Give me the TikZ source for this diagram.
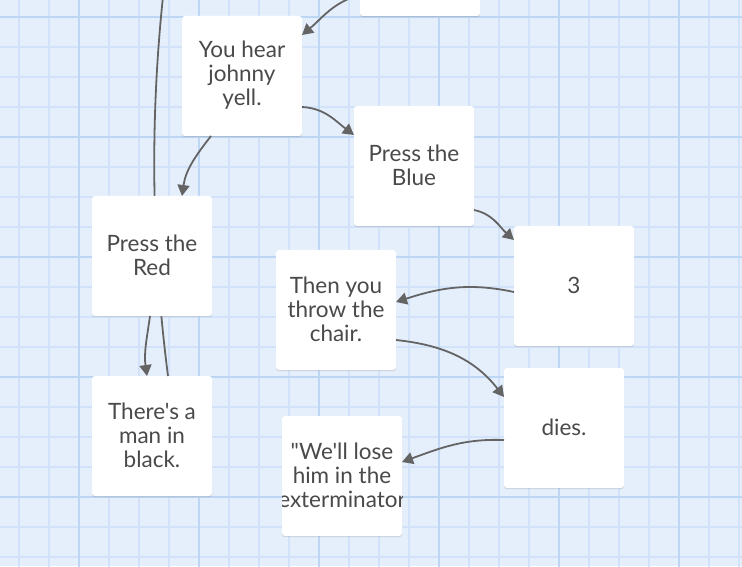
\documentclass[tikz,border=0pt]{standalone}
\usepackage{fontspec}
\newfontfamily\cardfont{Lato}
\usetikzlibrary{arrows.meta,calc,shadows}
\definecolor{bgblue}{HTML}{E5EFFC}
\definecolor{minorline}{HTML}{D2E3F9}
\definecolor{majorline}{HTML}{BDD6F4}
\definecolor{edgegray}{HTML}{646464}
\definecolor{textgray}{HTML}{4A4A4A}
\tikzset{
  card/.style={draw=none, fill=white, rounded corners=3pt, minimum width=120pt, minimum height=120pt,
    inner sep=0pt, outer sep=0pt,
    drop shadow={opacity=0.22, shadow xshift=0pt, shadow yshift=-1.2pt, fill=black!60}},
  cardtext/.style={text=textgray, font=\cardfont\fontsize{22.5}{24}\selectfont, align=center, inner sep=0pt, yshift=1pt},
  link/.style={draw=edgegray, line width=1.8pt, -{Triangle[length=11pt,width=12pt]}},
  plainlink/.style={draw=edgegray, line width=1.8pt},
}
\begin{document}
\begin{tikzpicture}[x=1pt,y=1pt]
\useasboundingbox (0,0) rectangle (742,566);
\fill[bgblue] (0,0) rectangle (742,566);
\begin{scope}
\clip (0,0) rectangle (742,566);
\begin{scope}[shift={(19,9)}]
\draw[minorline, line width=1.3pt, step=30] (-30,-30) grid (750,580);
\end{scope}
\begin{scope}[shift={(79,69)}]
\draw[majorline, line width=1.8pt, step=120] (-120,-120) grid (720,600);
\end{scope}
% nodes
\node[card] (top) at (420,610) {};
\node[card] (man) at (152,130) {};
\coordinate (far) at (172,640);
\draw[plainlink] ($(man.north west)+(76,0)$) .. controls (150,330) and (148,480) .. (far);
\node[card] (hear) at (242,490) {};
\node[cardtext] (hear-t) at (hear.center) {You hear\\johnny\\yell.};
\node[card] (blue) at (414,400) {};
\node[cardtext] (blue-t) at (blue.center) {Press the\\Blue};
\node[card] (red) at (152,310) {};
\node[cardtext] (red-t) at (red.center) {Press the\\Red};
\node[card] (three) at (574,280) {};
\node[cardtext] (three-t) at (three.center) {3};
\node[card] (chair) at (336,256) {};
\node[cardtext] (chair-t) at (chair.center) {Then you\\throw the\\chair.};
\node[cardtext] (man-t) at (man.center) {There's a\\man in\\black.};
\node[card] (dies) at (564,138) {};
\node[cardtext] (dies-t) at (dies.center) {dies.};
\node[card] (lose) at (342,90) {};
\begin{scope}
\clip (lose.south west) rectangle (lose.north east);
\node[cardtext] (lose-t) at (lose.center) {"We'll lose\\him in the\\exterminator};
\end{scope}
% edges
\draw[link] ($(top.south west)+(0,21)$) to[out=195,in=40] ($(hear.north east)+(0,-19)$);
\draw[link] ($(hear.south west)+(29,0)$) to[out=232,in=82] ($(red.north west)+(90,0)$);
\draw[link] ($(hear.south east)+(0,29)$) to[out=-3,in=143] ($(blue.north west)+(0,-29)$);
\draw[link] ($(blue.south east)+(0,16)$) to[out=-12,in=138] ($(three.north west)+(0,-14)$);
\draw[link] ($(three.north west)+(0,-66)$) to[out=168,in=18] ($(chair.north east)+(0,-52)$);
\draw[link] ($(chair.south east)+(0,30)$) to[out=-6,in=128] ($(dies.north west)+(0,-29)$);
\draw[link] ($(dies.south west)+(0,48)$) to[out=178,in=20] ($(lose.north east)+(0,-46)$);
\draw[link] ($(red.south west)+(58,0)$) to[out=262,in=98] ($(man.north west)+(55,0)$);
\end{scope}
\end{tikzpicture}
\end{document}
